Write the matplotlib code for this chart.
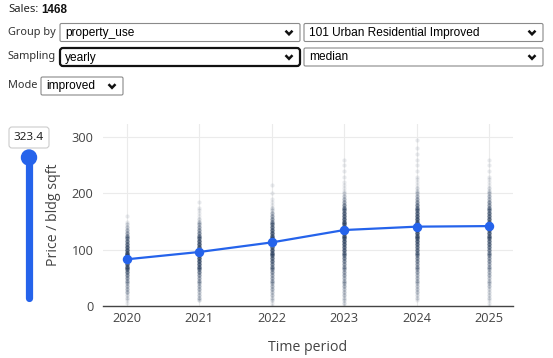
import numpy as np
import matplotlib
matplotlib.use("Agg")
import matplotlib.pyplot as plt
from matplotlib.patches import FancyBboxPatch, Circle

# --- data ---
years = [2020, 2021, 2022, 2023, 2024, 2025]
medians = [83, 96, 113, 135, 141, 142]
y_max = 323.4
sales_total = 1468

# price / bldg sqft levels (step 5) and how many sales sit at each level, per year
price_levels = list(range(0, 300, 5))
counts_2020 = [0, 1, 1, 2, 2, 4, 4, 4, 4, 5, 6, 7, 9, 11, 13, 14, 15, 16, 16, 15,
               13, 12, 10, 9, 8, 7, 5, 4, 3, 2, 1, 0, 1]
counts_2021 = [0, 0, 2, 3, 3, 3, 4, 4, 4, 5, 5, 6, 8, 9, 11, 12, 13, 14, 15, 15,
               15, 14, 13, 12, 10, 9, 7, 6, 5, 4, 3, 2, 1, 1, 1, 1, 0, 1]
counts_2022 = [1, 1, 2, 2, 3, 3, 4, 4, 4, 5, 5, 5, 6, 7, 8, 8, 10, 10, 12, 12,
               13, 13, 14, 14, 13, 13, 12, 11, 10, 9, 7, 6, 5, 4, 2, 2, 1, 1, 1, 0,
               1, 0, 0, 1]
counts_2023 = [1, 2, 2, 2, 3, 3, 3, 4, 4, 4, 4, 5, 5, 5, 6, 6, 7, 8, 9, 9,
               11, 11, 12, 13, 13, 14, 14, 14, 14, 13, 13, 12, 11, 11, 9, 9, 7, 5, 4, 3,
               2, 1, 1, 1, 1, 0, 1, 0, 1, 0, 1, 0, 1]
counts_2024 = [0, 0, 1, 2, 2, 3, 3, 3, 3, 4, 4, 4, 5, 5, 6, 6, 7, 7, 8, 9,
               10, 10, 11, 12, 13, 13, 14, 14, 14, 14, 13, 13, 12, 11, 10, 9, 8, 6, 5, 4,
               3, 2, 2, 1, 1, 1, 1, 0, 1, 0, 1, 0, 1, 0, 1, 0, 1, 0, 0, 1]
counts_2025 = [1, 1, 1, 2, 2, 2, 2, 3, 3, 3, 3, 4, 4, 4, 5, 5, 6, 6, 7, 7,
               8, 9, 10, 10, 11, 11, 12, 12, 12, 12, 11, 11, 10, 10, 8, 8, 6, 6, 4, 4,
               3, 2, 2, 1, 1, 1, 1, 0, 1, 0, 1, 0, 1]
year_counts = [counts_2020, counts_2021, counts_2022, counts_2023, counts_2024, counts_2025]

group_by = "property_use"
group_value = "101 Urban Residential Improved"
sampling = "yearly"
stat = "median"
mode = "improved"

BLUE = "#2563eb"
W, H = 553, 358

fig = plt.figure(figsize=(W / 100, H / 100), dpi=100)

# overlay axes in pixel coordinates for the UI controls
ui = fig.add_axes([0, 0, 1, 1])
ui.set_xlim(0, W)
ui.set_ylim(H, 0)
ui.axis("off")

label_font = dict(family=["Noto Sans", "DejaVu Sans"], color="#333333", fontsize=7.9)
select_font = dict(family=["Liberation Sans", "DejaVu Sans"], color="#000000", fontsize=8.6)

ui.text(8, 10, "Sales:", va="center", ha="left", family=["Noto Sans"], fontsize=8.1, color="#222222")
ui.text(41, 10, str(sales_total), va="center", ha="left", family=["Liberation Sans", "DejaVu Sans"],
        fontsize=8.4, fontweight="bold", color="#111111")


def dropdown(x0, x1, y0, y1, text, focused=False):
    if focused:
        box = FancyBboxPatch((x0, y0), x1 - x0, y1 - y0, boxstyle="round,pad=0,rounding_size=3",
                             fc="white", ec="#111111", lw=1.6)
    else:
        box = FancyBboxPatch((x0, y0), x1 - x0, y1 - y0, boxstyle="round,pad=0,rounding_size=1.5",
                             fc="white", ec="#8a8a8a", lw=0.8)
    ui.add_patch(box)
    ui.text(x0 + 5, (y0 + y1) / 2 + 0.5, text, va="center", ha="left", **select_font)
    cx, cy = x1 - 11, (y0 + y1) / 2
    ui.plot([cx - 3.5, cx, cx + 3.5], [cy - 1.8, cy + 1.8, cy - 1.8], color="#111111",
            lw=1.8, solid_capstyle="butt", solid_joinstyle="miter")


ui.text(8, 33, "Group by", va="center", ha="left", **label_font)
dropdown(60, 300, 23.5, 41.5, group_by)
dropdown(304, 543, 23.5, 41.5, group_value)
ui.text(8, 57, "Sampling", va="center", ha="left", **label_font)
dropdown(60, 300, 48, 66, sampling, focused=True)
dropdown(304, 543, 48, 66, stat)
ui.text(8, 86, "Mode", va="center", ha="left", **label_font)
dropdown(41, 123, 77, 95, mode)

# vertical slider showing the y-axis maximum
ui.add_patch(FancyBboxPatch((9, 127), 40, 21, boxstyle="round,pad=0,rounding_size=3",
                            fc="white", ec="#cccccc", lw=0.8))
ui.text(29, 138, f"{y_max}", va="center", ha="center", family=["Noto Sans"], fontsize=8.4, color="#222222")
ui.plot([29, 29], [158, 298], color=BLUE, lw=5.2, solid_capstyle="round")
ui.add_patch(Circle((29, 157.5), 7.5, color=BLUE))

# --- chart ---
ax = fig.add_axes([103 / W, 1 - 306 / H, 410 / W, 182 / H])
ax.set_zorder(2)
ax.patch.set_alpha(0)

for yr, counts in zip(years, year_counts):
    vals = np.repeat(price_levels[:len(counts)], counts)
    ax.scatter(np.full(len(vals), yr), vals, s=9, color="#2a3f5f", alpha=0.1,
               linewidths=0, zorder=2)

ax.plot(years, medians, color=BLUE, lw=1.6, marker="o", markersize=5.8, zorder=3)

ax.set_xlim(2019.67, 2025.33)
ax.set_ylim(0, y_max)
ax.set_xticks(years)
ax.set_yticks([0, 100, 200, 300])
ax.grid(True, color="#ebebeb", lw=0.8)
ax.set_axisbelow(True)
for side in ["top", "right", "left"]:
    ax.spines[side].set_visible(False)
ax.spines["bottom"].set_color("#444444")
ax.spines["bottom"].set_linewidth(1.0)
ax.tick_params(axis="both", length=0, labelsize=9.2, colors="#444444")
ax.tick_params(axis="y", pad=7)
ax.tick_params(axis="x", pad=4)
for lab in ax.get_xticklabels() + ax.get_yticklabels():
    lab.set_family(["Open Sans", "DejaVu Sans"])

ax.set_xlabel("Time period", family=["Open Sans"], fontsize=10.2, color="#444444")
ax.set_ylabel("Price / bldg sqft", family=["Open Sans"], fontsize=10.2, color="#444444")
ax.xaxis.set_label_coords(0.5, -0.187)
ax.yaxis.set_label_coords(-0.102, 0.5)

fig.savefig("out.png", dpi=100)
